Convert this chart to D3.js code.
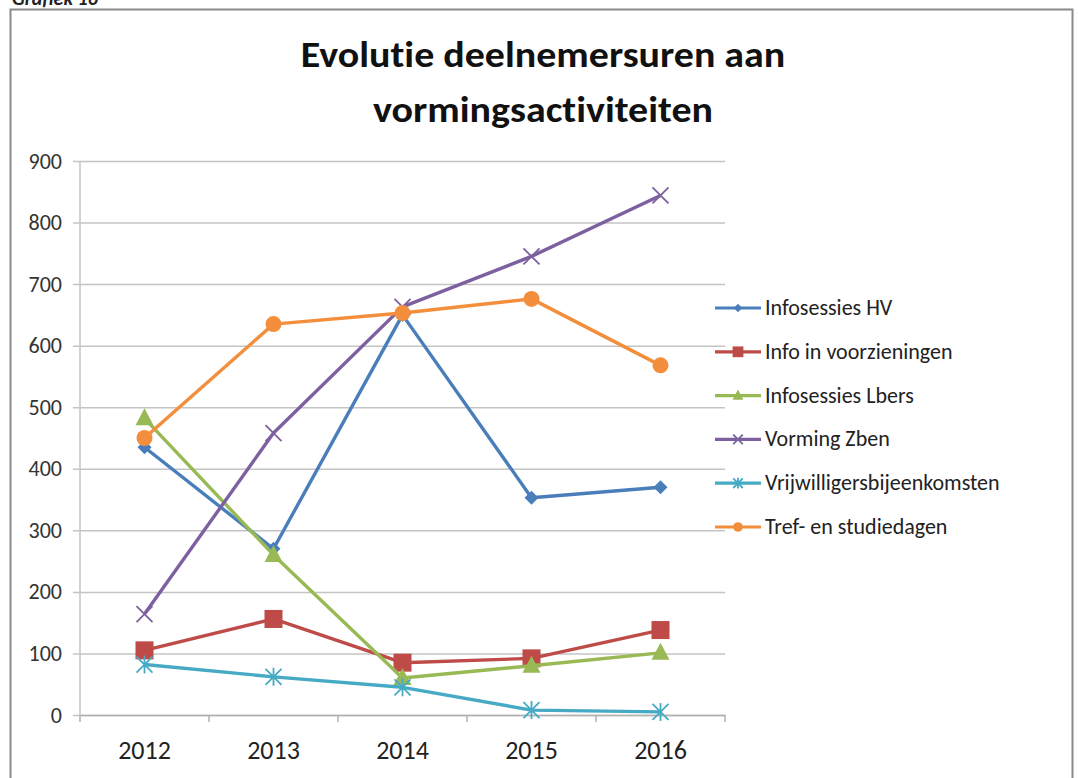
<!DOCTYPE html>
<html><head><meta charset="utf-8">
<script src="https://cdn.jsdelivr.net/npm/d3@7"></script>
<style>body{margin:0;background:#fff;font-family:Calibri,Carlito,"Open Sans","Liberation Sans",sans-serif;} text{font-variant-ligatures:none;}</style>
</head><body>
<svg id="c" width="1078" height="778"></svg>
<script>
const years = ["2012","2013","2014","2015","2016"];
const yTicks = [0,100,200,300,400,500,600,700,800,900];
const seriesNames = ["Infosessies HV","Info in voorzieningen","Infosessies Lbers","Vorming Zben","Vrijwilligersbijeenkomsten","Tref- en studiedagen"];
const infosessiesHV = [435,270,650,353,370];
const infoVoorzieningen = [105,156,85,92,138];
const infosessiesLbers = [482,260,60,80,101];
const vormingZben = [164,458,663,745,844];
const vrijwilligers = [82,62,45,8,5];
const trefStudiedagen = [450,635,653,676,568];
const colors = ["#4A7EBB","#BE4B48","#98B954","#7D60A0","#46AAC5","#F38F3C"];
const shapes = ["diamond","square","triangle","x","star","circle"];
const allValues = [infosessiesHV,infoVoorzieningen,infosessiesLbers,vormingZben,vrijwilligers,trefStudiedagen];

const svg = d3.select("#c");
const font = "Calibri,Carlito,'Open Sans','Liberation Sans',sans-serif";

svg.append("text").attr("x",12).attr("y",5).attr("font-size",20).attr("font-weight","bold").attr("font-style","italic").attr("font-family",font).attr("fill","#222").text("Grafiek 16");
svg.append("rect").attr("x",10.5).attr("y",9.5).attr("width",1062).attr("height",800).attr("fill","#fff").attr("stroke","#8a8a8a").attr("stroke-width",2);

function stretched(txt, cx, by, size, sx){
  svg.append("text").attr("transform",`translate(${cx},${by}) scale(${sx},1)`).attr("text-anchor","middle")
    .attr("font-size",size).attr("font-weight","bold").attr("font-family",font).attr("fill","#111").text(txt);
}
stretched("Evolutie deelnemersuren aan",543,67,37,1.08);
stretched("vormingsactiviteiten",543,122,37,1.08);

const x0=80, x1=725, yTop=161, yBot=715;
const x = d3.scaleBand().domain(years).range([x0,x1]);
const y = d3.scaleLinear().domain([0,900]).range([yBot,yTop]);

// gridlines
const yAxis = d3.axisLeft(y).tickValues(yTicks).tickSize(-(x1-x0)).tickSizeOuter(0).tickPadding(18);
const gy = svg.append("g").attr("transform",`translate(${x0},0)`).call(yAxis);
gy.select(".domain").remove();
gy.selectAll(".tick line").attr("stroke","#c4c4c4").attr("stroke-width",1.5).attr("x1",-7);
gy.selectAll(".tick text").attr("font-size",22).attr("font-family",font).attr("fill","#333");
svg.append("line").attr("x1",x0).attr("x2",x0).attr("y1",yTop).attr("y2",yBot).attr("stroke","#c4c4c4").attr("stroke-width",1.5);

// x axis
const xAxis = d3.axisBottom(x).tickSize(0).tickPadding(26);
const gx = svg.append("g").attr("transform",`translate(0,${yBot})`).call(xAxis);
gx.select(".domain").attr("stroke","#b0b0b0").attr("stroke-width",1.5);
gx.selectAll(".tick text").attr("font-size",26).attr("font-family",font).attr("fill","#222");
const bounds = years.map(d=>x(d)).concat([x1]);
svg.append("g").selectAll("line").data(bounds).join("line")
  .attr("x1",d=>d).attr("x2",d=>d).attr("y1",yBot).attr("y2",yBot+7).attr("stroke","#b0b0b0").attr("stroke-width",1.5);

function marker(g, shape, color, cx, cy, scale){
  const s = scale||1;
  if(shape==="diamond") g.append("path").attr("d",`M${cx},${cy-7*s}L${cx+7*s},${cy}L${cx},${cy+7*s}L${cx-7*s},${cy}Z`).attr("fill",color);
  else if(shape==="square") g.append("rect").attr("x",cx-9*s).attr("y",cy-9*s).attr("width",18*s).attr("height",18*s).attr("fill",color);
  else if(shape==="triangle") g.append("path").attr("d",`M${cx},${cy-10*s}L${cx+9*s},${cy+7*s}L${cx-9*s},${cy+7*s}Z`).attr("fill",color);
  else if(shape==="circle") g.append("circle").attr("cx",cx).attr("cy",cy).attr("r",8*s).attr("fill",color);
  else if(shape==="x") g.append("path").attr("d",`M${cx-8*s},${cy-8*s}L${cx+8*s},${cy+8*s}M${cx-8*s},${cy+8*s}L${cx+8*s},${cy-8*s}`).attr("stroke",color).attr("stroke-width",1.8);
  else if(shape==="star") g.append("path").attr("d",`M${cx-8*s},${cy-8*s}L${cx+8*s},${cy+8*s}M${cx-8*s},${cy+8*s}L${cx+8*s},${cy-8*s}M${cx},${cy-9*s}L${cx},${cy+9*s}`).attr("stroke",color).attr("stroke-width",1.8);
}

const line = d3.line().x((d,i)=>x(years[i])+x.bandwidth()/2).y(d=>y(d));
allValues.forEach((vals,k)=>{
  const g = svg.append("g");
  g.append("path").datum(vals).attr("d",line).attr("fill","none").attr("stroke",colors[k]).attr("stroke-width",3.4).attr("stroke-linejoin","round");
  vals.forEach((v,i)=>marker(g,shapes[k],colors[k],x(years[i])+x.bandwidth()/2,y(v)));
});

// legend
const lg = svg.append("g");
seriesNames.forEach((n,k)=>{
  const ly = 308 + k*43.8;
  lg.append("line").attr("x1",715).attr("x2",761).attr("y1",ly).attr("y2",ly).attr("stroke",colors[k]).attr("stroke-width",3.2);
  marker(lg,shapes[k],colors[k],738,ly,0.6);
  lg.append("text").attr("x",765).attr("y",ly+7).attr("font-size",22).attr("font-family",font).attr("fill","#222").text(n);
});
</script>
</body></html>
